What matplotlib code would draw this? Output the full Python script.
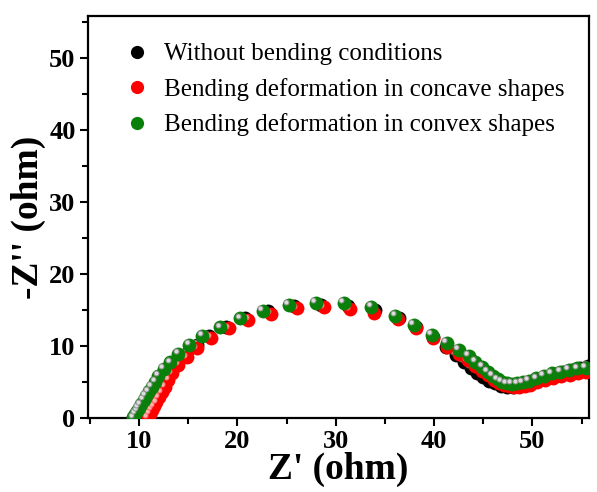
import matplotlib
matplotlib.use("Agg")
import matplotlib.pyplot as plt
from matplotlib.lines import Line2D
from matplotlib.transforms import offset_copy
from matplotlib.ticker import MultipleLocator

# ---- data ----
labels = ["Without bending conditions",
          "Bending deformation in concave shapes",
          "Bending deformation in convex shapes"]

x_without = [10.2, 10.4, 10.6, 10.8, 11.0, 11.25, 11.5, 11.8, 12.1, 12.45, 12.8, 13.35,
             14.0, 14.8, 15.9, 17.1, 18.8, 20.8, 23.1, 25.7, 28.45, 31.2, 34.0, 36.4,
             38.2, 39.9, 41.2, 42.2, 43.0, 43.7, 44.4, 45.0, 45.6, 46.2, 46.8, 47.4,
             48.0, 48.6, 49.2, 49.9, 50.7, 51.5, 52.3, 53.1, 54.0, 54.8, 55.6]
y_without = [0.1, 0.55, 1.05, 1.55, 2.05, 2.65, 3.2, 3.85, 4.5, 5.25, 6.0, 6.95,
             7.9, 8.95, 10.2, 11.4, 12.65, 13.85, 14.85, 15.5, 15.75, 15.6, 15.05, 13.95,
             12.6, 11.2, 9.9, 8.8, 7.8, 7.0, 6.3, 5.7, 5.2, 4.8, 4.5, 4.35,
             4.35, 4.5, 4.75, 5.05, 5.4, 5.75, 6.1, 6.4, 6.7, 6.95, 7.2]

x_concave = [10.9, 11.1, 11.3, 11.5, 11.75, 12.0, 12.3, 12.6, 12.95, 13.3, 14.0, 14.85,
             15.87, 17.3, 19.1, 21.1, 23.4, 26.05, 28.76, 31.4, 33.9, 36.3, 38.2, 39.9,
             41.3, 42.5, 43.4, 44.2, 44.9, 45.5, 46.1, 46.6, 47.1, 47.6, 48.1, 48.6,
             49.2, 49.8, 50.5, 51.3, 52.1, 52.9, 53.8, 54.6, 55.4]
y_concave = [0.1, 0.6, 1.1, 1.6, 2.2, 2.85, 3.55, 4.3, 5.3, 6.2, 7.36, 8.4,
             9.68, 11.1, 12.45, 13.6, 14.5, 15.2, 15.37, 15.1, 14.6, 13.7, 12.45, 11.1,
             9.9, 8.9, 8.0, 7.2, 6.5, 5.9, 5.3, 4.9, 4.6, 4.4, 4.25, 4.25,
             4.4, 4.65, 4.95, 5.25, 5.55, 5.8, 6.0, 6.2, 6.35]

x_convex = [9.4, 9.6, 9.8, 10.0, 10.2, 10.45, 10.7, 11.0, 11.3, 11.63, 11.96, 12.54,
            13.16, 14.0, 15.09, 16.44, 18.24, 20.28, 22.59, 25.2, 28.0, 30.8, 33.6, 36.06,
            37.92, 39.79, 41.3, 42.5, 43.5, 44.2, 44.9, 45.45, 46.0, 46.45, 46.9, 47.4,
            47.9, 48.45, 49.0, 49.6, 50.4, 51.15, 52.0, 52.85, 53.7, 54.55, 55.4]
y_convex = [0.1, 0.55, 1.0, 1.45, 1.9, 2.5, 3.05, 3.7, 4.35, 5.04, 5.83, 6.81,
            7.74, 8.89, 10.14, 11.39, 12.6, 13.85, 14.9, 15.7, 16.0, 16.0, 15.46, 14.17,
            12.92, 11.53, 10.4, 9.44, 8.6, 7.8, 7.1, 6.4, 5.83, 5.37, 5.04, 4.8,
            4.72, 4.8, 4.93, 5.2, 5.5, 5.83, 6.2, 6.4, 6.67, 6.9, 7.0]

colors = ["#000000", "#ff0000", "#0a800a"]
hl_face = ["#b8b8b8", "#ffb0b0", "#dcdcdc"]
hl_edge = ["#606060", "#ff7070", "#909090"]

plt.rcParams['font.family'] = ['Liberation Serif', 'DejaVu Serif']

fig = plt.figure(figsize=(5.97, 4.92), dpi=100)
ax = fig.add_axes([88/597, (492-418)/492, (589-88)/597, (418-16)/492])

series = [(x_without, y_without), (x_concave, y_concave), (x_convex, y_convex)]
ms = 10.0
for i, ((xs, ys), c, hf, he) in enumerate(zip(series, colors, hl_face, hl_edge)):
    ax.plot(xs, ys, linestyle='none', marker='o', ms=ms, mfc=c, mec=c, mew=0,
            zorder=3 + i)
    tr = offset_copy(ax.transData, fig=fig, x=-1.9, y=1.9, units='points')
    ax.plot(xs, ys, linestyle='none', marker='o', ms=3.6, mfc=hf, mec=he, mew=0.7,
            transform=tr, zorder=3.5 + i)

ax.set_xlim(4.8, 55.75)
ax.set_ylim(0, 55.8)
ax.xaxis.set_major_locator(MultipleLocator(10))
ax.xaxis.set_minor_locator(MultipleLocator(5))
ax.yaxis.set_major_locator(MultipleLocator(10))
ax.yaxis.set_minor_locator(MultipleLocator(5))
ax.tick_params(which='both', direction='out', width=1.5, top=False, right=False,
               labelsize=19, pad=3)
ax.tick_params(which='major', length=6)
ax.tick_params(which='minor', length=4)
for lab in ax.get_xticklabels() + ax.get_yticklabels():
    lab.set_fontweight('bold')
for sp in ax.spines.values():
    sp.set_linewidth(1.6)

ax.set_xlabel("Z' (ohm)", fontsize=27, fontweight='bold')
ax.set_ylabel("-Z'' (ohm)", fontsize=27, fontweight='bold')
ax.xaxis.set_label_coords(0.5, -0.085)
ax.yaxis.set_label_coords(-0.084, 0.5)

handles = [Line2D([], [], linestyle='none', marker='o', ms=9.5, mfc=c, mec=c, mew=0)
           for c in colors]
leg = ax.legend(handles, labels, loc='upper left', bbox_to_anchor=(0.052, 0.958),
                frameon=False, fontsize=18, labelspacing=0.5, handletextpad=0.6,
                handlelength=1.0, borderaxespad=0)

fig.savefig("out.png", dpi=100)
